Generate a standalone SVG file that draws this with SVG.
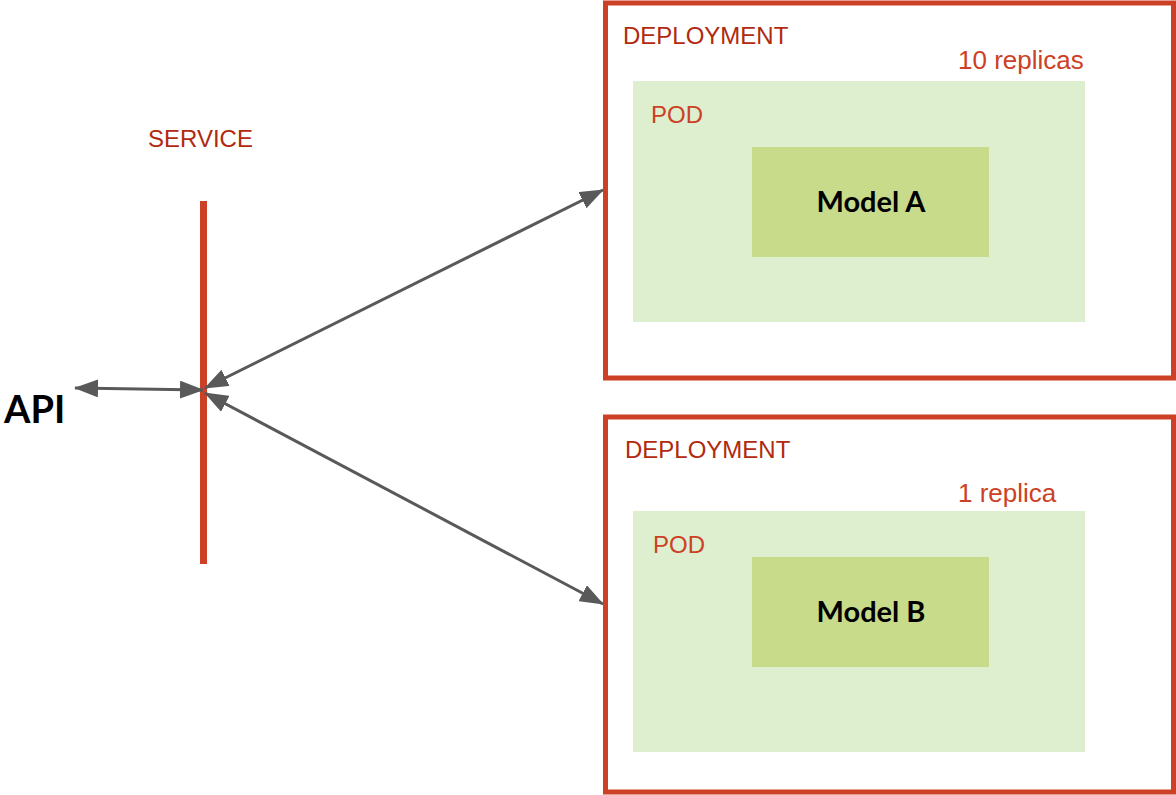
<svg xmlns="http://www.w3.org/2000/svg" width="1176" height="795" viewBox="0 0 1176 795">
<style>
.dep{fill:#ffffff;stroke:#cc4125;stroke-width:5}
.pod{fill:#deefd0}
.model{fill:#c8db8a}
.lbl{font-family:"Liberation Sans",Arial,sans-serif;font-size:24px}
.rep{font-size:26px}
.dark{fill:#b12a10}
.red{fill:#cc4125}
.mtxt{font-family:Lato,"Liberation Sans",sans-serif;font-weight:bold;font-size:29px;fill:#000;text-anchor:middle}
.conn{stroke:#595959;stroke-width:3;fill:none}
</style>
<defs>
<marker id="ah" viewBox="0 0 24 18" refX="23" refY="9" markerWidth="24" markerHeight="18" markerUnits="userSpaceOnUse" orient="auto-start-reverse">
<path d="M0,0 L24,9 L0,18 z" fill="#595959"/>
</marker>
</defs>
<rect width="1176" height="795" fill="#ffffff"/>
<g id="deploymentA">
<rect class="dep" x="605.5" y="3" width="568" height="375"/>
<text class="lbl dark" x="623" y="44">DEPLOYMENT</text>
<text class="lbl red rep" x="958" y="69">10 replicas</text>
</g>
<g id="podA">
<rect class="pod" x="633" y="81" width="452" height="241"/>
<text class="lbl red" x="651" y="123">POD</text>
</g>
<g id="modelA">
<rect class="model" x="752" y="147" width="237" height="110"/>
<text class="mtxt" x="871" y="212">Model A</text>
</g>
<g id="deploymentB">
<rect class="dep" x="605.5" y="417" width="568" height="375"/>
<text class="lbl dark" x="625" y="458">DEPLOYMENT</text>
<text class="lbl red rep" x="958" y="502">1 replica</text>
</g>
<g id="podB">
<rect class="pod" x="633" y="511" width="452" height="241"/>
<text class="lbl red" x="653" y="553">POD</text>
</g>
<g id="modelB">
<rect class="model" x="752" y="557" width="237" height="110"/>
<text class="mtxt" x="871" y="622">Model B</text>
</g>
<g id="service">
<rect x="200" y="201" width="7" height="363" fill="#cc4125"/>
<text class="lbl dark" x="148" y="147">SERVICE</text>
</g>
<g id="api">
<text x="4" y="423" style="font-family:Lato,'Liberation Sans',sans-serif;font-weight:bold;font-size:38px;fill:#000">API</text>
</g>
<g id="connectors">
<line class="conn" x1="75" y1="388" x2="203" y2="390" marker-start="url(#ah)" marker-end="url(#ah)"/>
<line class="conn" x1="205" y1="388" x2="603" y2="190" marker-start="url(#ah)" marker-end="url(#ah)"/>
<line class="conn" x1="205" y1="393" x2="603" y2="604" marker-start="url(#ah)" marker-end="url(#ah)"/>
</g>
</svg>
